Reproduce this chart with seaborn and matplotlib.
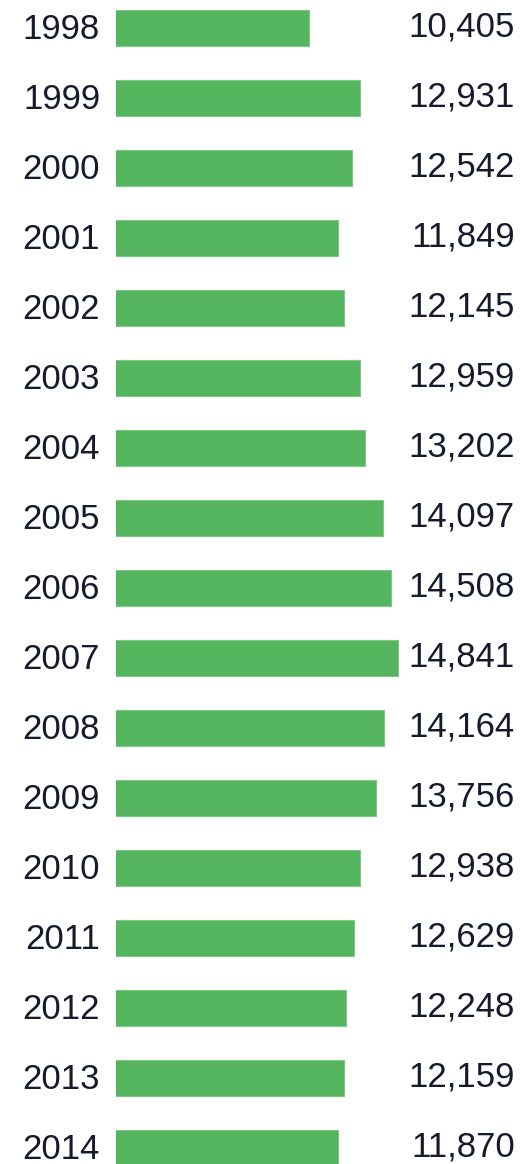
import matplotlib
matplotlib.use("Agg")
import matplotlib.pyplot as plt
import matplotlib.transforms as mtransforms
import seaborn as sns
import pandas as pd

years = [str(y) for y in range(1998, 2015)]
values = [10405, 12931, 12542, 11849, 12145, 12959, 13202, 14097, 14508,
          14841, 14164, 13756, 12938, 12629, 12248, 12159, 11870]

df = pd.DataFrame({'year': years, 'value': values})

sns.set_theme(style='white')
plt.rcParams['font.family'] = ['Liberation Sans', 'DejaVu Sans']

fig = plt.figure(figsize=(5.31, 11.64), dpi=100)
ax = fig.add_axes([116 / 531, 0, 415 / 531, 1])

sns.barplot(data=df, x='value', y='year', orient='h', color='#55b45e',
            saturation=1, width=0.514, edgecolor='#7cc884', linewidth=0.8, ax=ax)

ax.set_xlim(750, 21500)
ax.set_ylim(16.23, -0.4)

text_color = '#151a2c'
# value labels, right-aligned near the right edge
for i, v in enumerate(values):
    ax.text(0.9614, i - 0.02, f'{v:,}', transform=ax.get_yaxis_transform(),
            ha='right', va='center', fontsize=25, color=text_color)

ax.set_xlabel('')
ax.set_ylabel('')
ax.set_xticks([])
ax.tick_params(axis='y', length=0, pad=11.5, labelsize=25, labelcolor=text_color)

# nudge the year labels up slightly
offset = mtransforms.ScaledTranslation(0, 1.5 / 100, fig.dpi_scale_trans)
for lbl in ax.get_yticklabels():
    lbl.set_transform(lbl.get_transform() + offset)
sns.despine(ax=ax, left=True, bottom=True)

fig.savefig('out.png', dpi=100)
